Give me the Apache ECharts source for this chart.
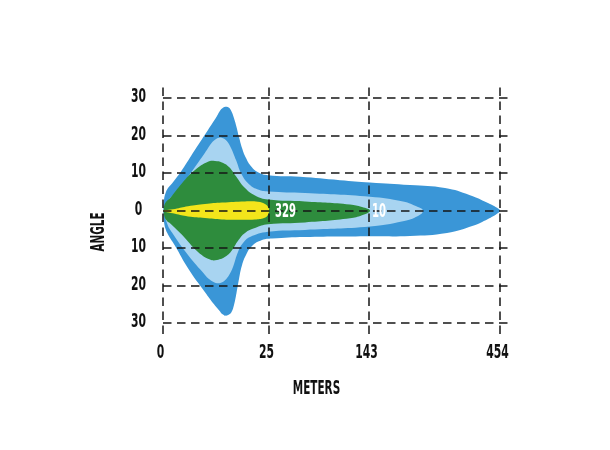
<!DOCTYPE html>
<html><head><meta charset="utf-8">
<script src="https://cdn.jsdelivr.net/npm/echarts@6/dist/echarts.min.js"></script>
<style>html,body{margin:0;padding:0;background:#fff}#c{width:610px;height:450px}</style>
</head><body><div id="c"></div>
<script>
// Tick labels (meters) and their positions along the distance axis
const xTickLabels = ['0', '25', '143', '454'];
const xTickPos = [0, 106, 206, 337];
// Angle tick values (degrees)
const yTickValues = [-30, -20, -10, 0, 10, 20, 30];

// Beam contour outlines: [axis position, angle in degrees]
const outerBlue = [[0.4,-0.1],[1,2.8],[2.5,4.6],[5,6.0],[9,7.2],[19,10.8],[32,16.2],[45,21.5],[54,25.2],[57,26.6],[60,27.4],[63,27.7],[66,27.4],[68.5,26.4],[71,24.6],[73.5,22.3],[76,19.6],[79,16.7],[83,14.0],[88,11.8],[95,10.2],[105,9.4],[137,9.0],[177,8.1],[207,7.5],[247,6.8],[282,6.0],[307,4.1],[325,2.0],[334,0.7],[337,-0.1],
  [334,-0.9],[325,-2.3],[310,-4.1],[284,-6.0],[247,-6.8],[207,-6.9],[142,-7.1],[109,-7.5],[99,-7.9],[89,-9.5],[83,-11.9],[79,-14.6],[76,-18.3],[73.5,-22.0],[71,-25.2],[68.5,-27.1],[66,-27.8],[63,-28.1],[60,-27.8],[56,-26.6],[51,-25.0],[42,-21.8],[25,-15.4],[12,-9.4],[5,-6.4],[2.5,-4.9],[1,-3.0]];
const lightBlue = [[1.5,-0.1],[3,1.7],[6,3.0],[12,4.6],[25,9.0],[42,15.4],[48,17.8],[52,18.9],[56,19.4],[60,19.3],[64,18.5],[68,16.7],[73,13.5],[79,9.5],[87,6.8],[95,5.6],[105,5.1],[142,4.7],[207,3.7],[240,2.4],[255,0.9],[260,-0.1],
  [255,-1.5],[240,-2.9],[207,-4.3],[142,-5.2],[105,-5.7],[87,-7.1],[80,-8.7],[75,-11.1],[70,-15.1],[66,-17.3],[62,-18.6],[58,-19.3],[54,-19.4],[50,-19.0],[46,-18.3],[42,-17.2],[25,-11.9],[9,-5.9],[4,-3.4]];
const green = [[0.8,-0.1],[1.5,1.5],[4,2.6],[7,3.3],[19,7.3],[32,10.8],[45,13.0],[52,13.2],[59,12.8],[66,11.6],[72,9.5],[82,6.0],[92,4.0],[105,2.9],[142,2.4],[187,1.6],[199,0.9],[207,-0.1],
  [199,-1.3],[187,-2.1],[142,-3.2],[105,-3.7],[92,-4.7],[82,-6.0],[75,-8.1],[69,-10.6],[63,-12.2],[54,-13.2],[47,-13.1],[35,-11.1],[19,-6.5],[7,-3.4],[4,-2.8],[1.5,-1.7]];
const yellow = [[0,-0.1],[12,0.4],[25,1.1],[42,1.7],[59,2.1],[82,2.4],[95,2.3],[102,1.7],[105.5,0.7],[106,-0.1],
  [105,-1.2],[101,-2.0],[92,-2.4],[77,-2.5],[59,-2.4],[42,-2.0],[25,-1.6],[12,-0.9]];

// Lux values printed inside the beam
const luxValues = ['329', '10'];
const luxPos = [112, 209];

const FONT = "'DejaVu Sans Condensed', 'DejaVu Sans', sans-serif";

function polySeries(points, color, z) {
  return {
    type: 'custom', coordinateSystem: 'cartesian2d', z: z, silent: true,
    data: [[points[0][0], points[0][1]]],
    renderItem: function (params, api) {
      const pts = points.map(p => api.coord(p));
      return { type: 'polygon', shape: { points: pts, smooth: 0.45 }, style: { fill: color } };
    }
  };
}

const dash = { color: '#161616', width: 1.5, type: [8.5, 5.5] };

const chart = echarts.init(document.getElementById('c'), null, { renderer: 'canvas' });
chart.setOption({
  animation: false,
  backgroundColor: '#ffffff',
  grid: { left: 163, width: 345, top: 85, height: 249.1 },
  xAxis: {
    type: 'value', min: 0, max: 345,
    axisLine: { show: false }, axisTick: { show: false }, splitLine: { show: false },
    axisLabel: { show: false }
  },
  yAxis: {
    type: 'value', min: -33, max: 33.5,
    axisLine: { show: false }, axisTick: { show: false }, splitLine: { show: false },
    axisLabel: { show: false }
  },
  series: [
    polySeries(outerBlue, '#3a96d7', 1),
    polySeries(lightBlue, '#a8d4f1', 2),
    polySeries(green, '#2e8c3d', 3),
    polySeries(yellow, '#f3e51b', 4),
    {
      type: 'line', z: 5, silent: true, data: [], symbol: 'none',
      markLine: {
        silent: true, symbol: 'none', animation: false,
        label: { show: false }, lineStyle: dash,
        data: yTickValues.map(v => ({ yAxis: v })).concat(xTickPos.map(v => ({ xAxis: v })))
      }
    }
  ]
});

// Text labels: placed through the axes' own scale, drawn condensed like the original
function txt(text, x, y, align, color, sx, rot) {
  return {
    type: 'text', x: x, y: y, z: 100, scaleX: sx, rotation: rot || 0,
    style: { text: text, textAlign: align, textVerticalAlign: 'middle', fontFamily: FONT, fontWeight: 'bold', fontSize: 20, fill: color }
  };
}
const g = [];
yTickValues.forEach(v => {
  const p = chart.convertToPixel({ gridIndex: 0 }, [0, v]);
  g.push(txt(String(Math.abs(v)), 138.5, p[1] - 1, 'center', '#111', 0.6));
});
xTickPos.forEach((v, i) => {
  const p = chart.convertToPixel({ gridIndex: 0 }, [v, -33]);
  g.push(txt(xTickLabels[i], p[0] - 2.5, p[1] + 19, 'center', '#111', 0.6));
});
luxPos.forEach((v, i) => {
  const p = chart.convertToPixel({ gridIndex: 0 }, [v, 0]);
  g.push(txt(luxValues[i], p[0], p[1] + 1, 'left', '#ffffff', 0.56));
});
g.push(txt('METERS', 316.5, 388.5, 'center', '#111', 0.58));
g.push(txt('ANGLE', 98.5, 232, 'center', '#111', 0.58, Math.PI / 2));
chart.setOption({ graphic: g });
</script>
</body></html>
